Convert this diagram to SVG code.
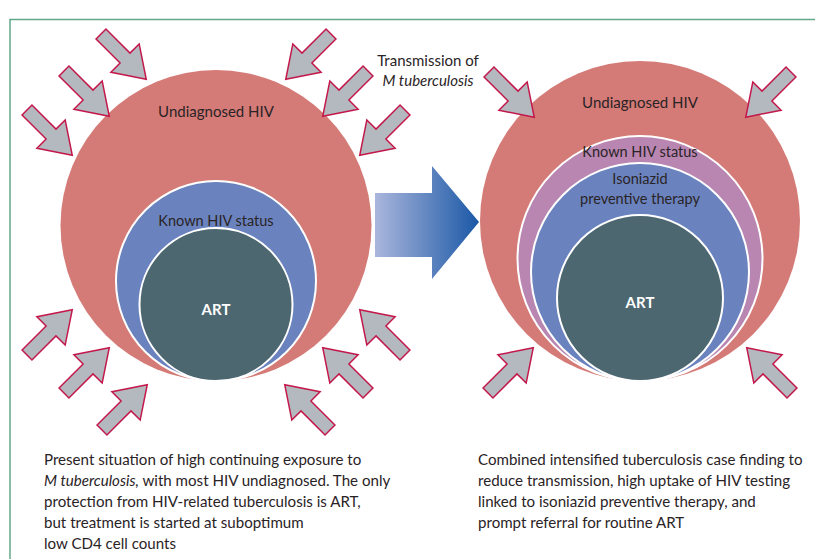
<svg xmlns="http://www.w3.org/2000/svg" width="815" height="559" viewBox="0 0 815 559">
<defs>
<style>
.t{font-family:Lato,"Noto Sans","Liberation Sans",sans-serif;fill:#2a2326;}
.lbl{font-size:15px;text-anchor:middle;}
.art{font-family:Lato,"Noto Sans","Liberation Sans",sans-serif;font-size:15px;font-weight:bold;fill:#ffffff;text-anchor:middle;}
.cap{font-size:15.1px;}
.red{fill:#d47b77;}
.pur{fill:#b986b1;stroke:#ffffff;stroke-width:2;}
.blu{fill:#6a83be;stroke:#ffffff;stroke-width:2;}
.drk{fill:#4d6771;stroke:#ffffff;stroke-width:2;}
.ta{fill:#b3b9be;stroke:#c3184b;stroke-width:1.5;stroke-linejoin:miter;}
</style>
<path id="arr" d="M0,-7 L34,-7 L34,-20 L64,0 L34,20 L34,7 L0,7 Z"/>
<linearGradient id="bg" x1="0" y1="0" x2="1" y2="0">
<stop offset="0" stop-color="#aab6dc"/>
<stop offset="1" stop-color="#1b58a6"/>
</linearGradient>
</defs>
<rect width="815" height="559" fill="#ffffff"/>
<path d="M10,559 L10,19.5 L815,19.5" fill="none" stroke="#62a98a" stroke-width="1.5"/>

<g id="left-undiagnosed"><circle class="red" cx="216" cy="225.5" r="155.5"/><text class="t lbl" x="216" y="117">Undiagnosed HIV</text></g>
<g id="left-known"><circle class="blu" cx="216" cy="281" r="100"/><text class="t lbl" x="216" y="226" style="font-size:14.5px">Known HIV status</text></g>
<g id="left-art"><circle class="drk" cx="216" cy="304.5" r="76.5"/><text class="art" x="216" y="315">ART</text></g>

<g id="right-undiagnosed"><circle class="red" cx="640" cy="221" r="160"/><text class="t lbl" x="640" y="108">Undiagnosed HIV</text></g>
<g id="right-known"><circle class="pur" cx="640" cy="258.5" r="122.5"/><text class="t lbl" x="640" y="157" style="font-size:14.5px">Known HIV status</text></g>
<g id="right-ipt"><circle class="blu" cx="640" cy="272" r="109"/><text class="t lbl" x="640" y="184" style="font-size:14.5px">Isoniazid</text><text class="t lbl" x="640" y="204" style="font-size:14.5px">preventive therapy</text></g>
<g id="right-art"><circle class="drk" cx="640" cy="298" r="83"/><text class="art" x="640" y="308">ART</text></g>

<g id="transmission-arrows">
<use href="#arr" class="ta" transform="translate(101,34) rotate(45)"/>
<use href="#arr" class="ta" transform="translate(331,34) rotate(135)"/>
<use href="#arr" class="ta" transform="translate(64,71) rotate(45)"/>
<use href="#arr" class="ta" transform="translate(27,110) rotate(45)"/>
<use href="#arr" class="ta" transform="translate(368,71) rotate(135)"/>
<use href="#arr" class="ta" transform="translate(405,110) rotate(135)"/>
<use href="#arr" class="ta" transform="translate(27,355) rotate(-45)"/>
<use href="#arr" class="ta" transform="translate(64,393) rotate(-45)"/>
<use href="#arr" class="ta" transform="translate(102,430) rotate(-45)"/>
<use href="#arr" class="ta" transform="translate(405,355) rotate(-135)"/>
<use href="#arr" class="ta" transform="translate(368,393) rotate(-135)"/>
<use href="#arr" class="ta" transform="translate(330,430) rotate(-135)"/>
<use href="#arr" class="ta" transform="translate(489,72) rotate(45)"/>
<use href="#arr" class="ta" transform="translate(791,72) rotate(135)"/>
<use href="#arr" class="ta" transform="translate(488,393) rotate(-45)"/>
<use href="#arr" class="ta" transform="translate(792,393) rotate(-135)"/>
</g>

<g id="transmission-label">
<text class="t lbl" x="428" y="66">Transmission of</text>
<text class="t lbl" x="428" y="86" font-style="italic">M tuberculosis</text>
</g>

<g id="connectors">
<path d="M375,193 L432,193 L432,166 L479,222 L432,279 L432,257 L375,257 Z" fill="url(#bg)"/>
</g>

<g id="caption-left">
<text class="t cap" x="44" y="465">Present situation of high continuing exposure to</text>
<text class="t cap" x="44" y="486"><tspan font-style="italic">M tuberculosis,</tspan> with most HIV undiagnosed. The only</text>
<text class="t cap" x="44" y="507">protection from HIV-related tuberculosis is ART,</text>
<text class="t cap" x="44" y="528">but treatment is started at suboptimum</text>
<text class="t cap" x="44" y="549">low CD4 cell counts</text>
</g>
<g id="caption-right">
<text class="t cap" x="478" y="465">Combined intensified tuberculosis case finding to</text>
<text class="t cap" x="478" y="486">reduce transmission, high uptake of HIV testing</text>
<text class="t cap" x="478" y="507">linked to isoniazid preventive therapy, and</text>
<text class="t cap" x="478" y="528">prompt referral for routine ART</text>
</g>
</svg>
